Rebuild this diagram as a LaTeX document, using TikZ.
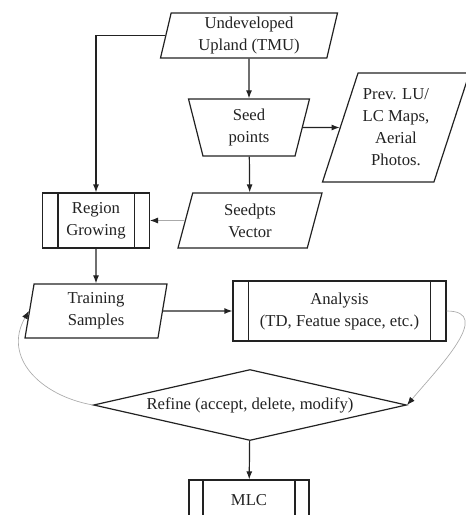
\documentclass[tikz,border=0pt]{standalone}
\usepackage{fontspec}
\setmainfont{Liberation Serif}
\usepackage{xcolor}
\usepackage{tikz}
\usetikzlibrary{arrows.meta,positioning,calc,shapes.geometric}
\definecolor{ln}{HTML}{222222}
\definecolor{gl}{HTML}{AAAAAA}
\newcommand{\Lbl}{\fontsize{12.5}{16.5}\selectfont}

\begin{document}
\begin{tikzpicture}[x=0.75pt, y=-0.75pt,
    every node/.style={font=\Lbl, text=ln, align=center},
    para/.style={trapezium, trapezium stretches body, draw=ln, line width=0.9pt, inner sep=1pt},
    procbox/.style={rectangle, draw=ln, line width=0.9pt, inner sep=2pt},
    dia/.style={diamond, draw=ln, line width=0.9pt, aspect=4.4, inner sep=0pt,
      minimum width=234.75pt, minimum height=53.25pt},
    arr/.style={-{Latex[length=6pt,width=4.5pt]}, draw=ln, line width=0.9pt},
    garr/.style={-{Latex[length=6pt,width=4.5pt,color=ln]}, draw=gl, line width=0.5pt}]
  \useasboundingbox (0,0) rectangle (465,515);
  \node[para, trapezium left angle=75, trapezium right angle=105,
    minimum width=132.75pt, minimum height=33.75pt] (tmu) at (249,35.5) {Undeveloped\\Upland (TMU)};
  \node[para, trapezium left angle=110, trapezium right angle=110,
    minimum width=90.75pt, minimum height=42.75pt] (seed) at (249,127.5) {Seed\\points};
  \node[para, trapezium left angle=66, trapezium right angle=114,
    minimum width=110.25pt, minimum height=81.75pt] (prev) at (396,127.5) {Prev. LU/\\LC Maps,\\Aerial\\Photos.};
  \node[para, trapezium left angle=68, trapezium right angle=112,
    minimum width=108pt, minimum height=41.25pt] (vec) at (250,220.5) {Seedpts\\Vector};
  \node[procbox, minimum width=80.25pt, minimum height=41.25pt] (rg) at (96,220.5) {Region\\Growing};
  \node[para, trapezium left angle=77, trapezium right angle=103,
    minimum width=106.5pt, minimum height=40.5pt] (train) at (96,311) {Training\\Samples};
  \node[procbox, minimum width=159.75pt, minimum height=45pt] (ana) at (339.5,311) {Analysis\\(TD, Featue space, etc.)};
  \node[dia] (ref) at (250,405) {Refine (accept, delete, modify)};
  \node[procbox, minimum width=90pt, minimum height=30pt] (mlc) at (249,500) {MLC};
  \foreach \n/\d in {rg/12pt, ana/12pt, mlc/11pt}
    \draw[ln, line width=0.9pt] ([xshift=\d]\n.north west) -- ([xshift=\d]\n.south west)
      ([xshift=-\d]\n.north east) -- ([xshift=-\d]\n.south east);
  \draw[arr] (tmu) -- (seed);
  \draw[arr] (seed.east) -- (prev);
  \draw[arr] (seed) -- (vec);
  \draw[garr] (vec) -- (rg);
  \draw[arr] (tmu.west) -| (rg);
  \draw[arr] (rg) -- (train);
  \draw[arr] (train) -- (ana);
  \draw[garr] (ana.east) to[out=0, in=50, looseness=1.2] (ref.east);
  \draw[garr] (ref.west) to[out=170, in=-120, looseness=1.2] (train.west);
  \draw[arr] (ref) -- (mlc);
\end{tikzpicture}
\end{document}
